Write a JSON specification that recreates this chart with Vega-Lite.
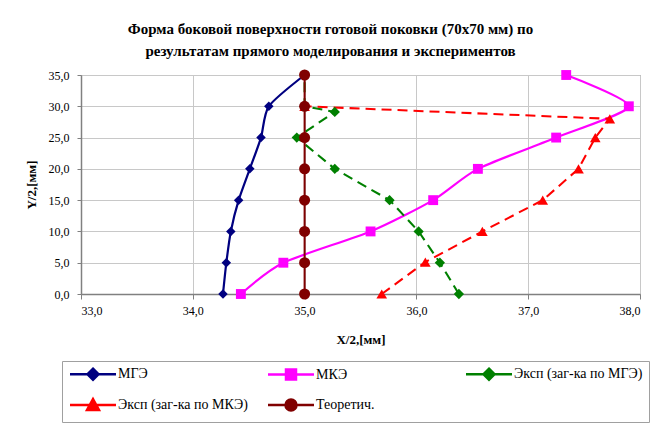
{
  "$schema": "https://vega.github.io/schema/vega-lite/v6.json",
  "width": 559,
  "height": 219,
  "autosize": {"type": "none"},
  "padding": {"left": 81, "top": 75, "right": 19, "bottom": 134},
  "background": "white",
  "config": {
    "font": "Liberation Serif",
    "view": {"stroke": "#808080", "strokeWidth": 1},
    "legend": {
      "labelFont": "Liberation Serif",
      "labelFontSize": 14,
      "labelColor": "black",
      "labelLimit": 220
    }
  },
  "title": {
    "text": ["Форма боковой поверхности готовой поковки (70x70 мм) по", "результатам прямого моделирования и экспериментов"],
    "font": "Liberation Serif",
    "fontSize": 15,
    "fontWeight": "bold",
    "color": "black",
    "anchor": "middle",
    "dx": -30,
    "offset": 10,
    "lineHeight": 22
  },
  "data": {
    "values": [
      {"series": "МГЭ", "seq": 1, "x": 34.27, "y": 0},
      {"series": "МГЭ", "seq": 2, "x": 34.30, "y": 5},
      {"series": "МГЭ", "seq": 3, "x": 34.34, "y": 10},
      {"series": "МГЭ", "seq": 4, "x": 34.41, "y": 15},
      {"series": "МГЭ", "seq": 5, "x": 34.51, "y": 20},
      {"series": "МГЭ", "seq": 6, "x": 34.61, "y": 25},
      {"series": "МГЭ", "seq": 7, "x": 34.68, "y": 30},
      {"series": "МГЭ", "seq": 8, "x": 35.0, "y": 35},
      {"series": "МКЭ", "seq": 1, "x": 34.43, "y": 0},
      {"series": "МКЭ", "seq": 2, "x": 34.81, "y": 5},
      {"series": "МКЭ", "seq": 3, "x": 35.59, "y": 10},
      {"series": "МКЭ", "seq": 4, "x": 36.15, "y": 15},
      {"series": "МКЭ", "seq": 5, "x": 36.55, "y": 20},
      {"series": "МКЭ", "seq": 6, "x": 37.25, "y": 25},
      {"series": "МКЭ", "seq": 7, "x": 37.90, "y": 30},
      {"series": "МКЭ", "seq": 8, "x": 37.34, "y": 35},
      {"series": "Эксп (заг-ка по МГЭ)", "seq": 1, "x": 36.38, "y": 0},
      {"series": "Эксп (заг-ка по МГЭ)", "seq": 2, "x": 36.21, "y": 5},
      {"series": "Эксп (заг-ка по МГЭ)", "seq": 3, "x": 36.02, "y": 10},
      {"series": "Эксп (заг-ка по МГЭ)", "seq": 4, "x": 35.76, "y": 15},
      {"series": "Эксп (заг-ка по МГЭ)", "seq": 5, "x": 35.27, "y": 20},
      {"series": "Эксп (заг-ка по МГЭ)", "seq": 6, "x": 34.93, "y": 25},
      {"series": "Эксп (заг-ка по МГЭ)", "seq": 7, "x": 35.27, "y": 29.1},
      {"series": "Эксп (заг-ка по МГЭ)", "seq": 8, "x": 35.0, "y": 30},
      {"series": "Эксп (заг-ка по МГЭ)", "seq": 9, "x": 35.0, "y": 35},
      {"series": "Эксп (заг-ка по МКЭ)", "seq": 1, "x": 35.69, "y": 0},
      {"series": "Эксп (заг-ка по МКЭ)", "seq": 2, "x": 36.08, "y": 5.1},
      {"series": "Эксп (заг-ка по МКЭ)", "seq": 3, "x": 36.59, "y": 10},
      {"series": "Эксп (заг-ка по МКЭ)", "seq": 4, "x": 37.13, "y": 15},
      {"series": "Эксп (заг-ка по МКЭ)", "seq": 5, "x": 37.45, "y": 20},
      {"series": "Эксп (заг-ка по МКЭ)", "seq": 6, "x": 37.60, "y": 25},
      {"series": "Эксп (заг-ка по МКЭ)", "seq": 7, "x": 37.73, "y": 28},
      {"series": "Эксп (заг-ка по МКЭ)", "seq": 8, "x": 35.0, "y": 30},
      {"series": "Теоретич.", "seq": 1, "x": 35.0, "y": 0},
      {"series": "Теоретич.", "seq": 2, "x": 35.0, "y": 5},
      {"series": "Теоретич.", "seq": 3, "x": 35.0, "y": 10},
      {"series": "Теоретич.", "seq": 4, "x": 35.0, "y": 15},
      {"series": "Теоретич.", "seq": 5, "x": 35.0, "y": 20},
      {"series": "Теоретич.", "seq": 6, "x": 35.0, "y": 25},
      {"series": "Теоретич.", "seq": 7, "x": 35.0, "y": 30},
      {"series": "Теоретич.", "seq": 8, "x": 35.0, "y": 35}
    ]
  },
  "encoding": {
    "x": {
      "field": "x", "type": "quantitative",
      "scale": {"domain": [33, 38], "nice": false, "zero": false},
      "axis": {
        "title": "X/2,[мм]", "values": [33, 34, 35, 36, 37, 38],
        "labelExpr": "replace(format(datum.value, '.1f'), '.', ',')",
        "labelFont": "Liberation Serif", "labelFontSize": 12, "labelColor": "black",
        "titleFont": "Liberation Serif", "titleFontSize": 13, "titleFontWeight": "bold", "titleColor": "black",
        "titlePadding": 17, "labelPadding": 6, "tickSize": 5, "tickColor": "#808080",
        "domainColor": "#808080", "domainWidth": 1.5,
        "gridColor": "#c8c8c8", "gridWidth": 1
      }
    },
    "y": {
      "field": "y", "type": "quantitative",
      "scale": {"domain": [0, 35], "nice": false},
      "axis": {
        "title": "Y/2,[мм]", "values": [0, 5, 10, 15, 20, 25, 30, 35],
        "labelExpr": "replace(format(datum.value, '.1f'), '.', ',')",
        "labelFont": "Liberation Serif", "labelFontSize": 12, "labelColor": "black",
        "titleFont": "Liberation Serif", "titleFontSize": 13, "titleFontWeight": "bold", "titleColor": "black",
        "titlePadding": 10, "labelPadding": 8, "tickSize": 4, "tickColor": "#808080",
        "domainColor": "#808080", "domainWidth": 1.5,
        "gridColor": "#c8c8c8", "gridWidth": 1
      }
    }
  },
  "layer": [
    {
      "transform": [{"filter": {"field": "series", "oneOf": ["МГЭ", "МКЭ"]}}],
      "mark": {"type": "line", "interpolate": "cardinal", "tension": 0.3},
      "encoding": {
        "order": {"field": "seq", "type": "quantitative"},
        "color": {
          "field": "series", "type": "nominal",
          "scale": {"domain": ["МГЭ", "МКЭ", "Эксп (заг-ка по МГЭ)", "Эксп (заг-ка по МКЭ)", "Теоретич."], "range": ["#000080", "#FF00FF", "#008000", "#FF0000", "#800000"]},
          "legend": null
        },
        "strokeWidth": {
          "field": "series", "type": "nominal",
          "scale": {"domain": ["МГЭ", "МКЭ", "Эксп (заг-ка по МГЭ)", "Эксп (заг-ка по МКЭ)", "Теоретич."], "range": [2.2, 2, 3, 2.5, 4]},
          "legend": null
        }
      }
    },
    {
      "transform": [{"filter": {"field": "series", "oneOf": ["Эксп (заг-ка по МГЭ)", "Эксп (заг-ка по МКЭ)", "Теоретич."]}}],
      "mark": {"type": "line", "interpolate": "linear"},
      "encoding": {
        "order": {"field": "seq", "type": "quantitative"},
        "color": {
          "field": "series", "type": "nominal",
          "scale": {"domain": ["МГЭ", "МКЭ", "Эксп (заг-ка по МГЭ)", "Эксп (заг-ка по МКЭ)", "Теоретич."], "range": ["#000080", "#FF00FF", "#008000", "#FF0000", "#800000"]},
          "legend": null
        },
        "strokeWidth": {
          "field": "series", "type": "nominal",
          "scale": {"domain": ["МГЭ", "МКЭ", "Эксп (заг-ка по МГЭ)", "Эксп (заг-ка по МКЭ)", "Теоретич."], "range": [2.2, 2, 3, 2.5, 4]},
          "legend": null
        },
        "strokeDash": {
          "field": "series", "type": "nominal",
          "scale": {"domain": ["Эксп (заг-ка по МГЭ)", "Эксп (заг-ка по МКЭ)", "Теоретич."], "range": [[10, 6], [10, 6], [1, 0]]},
          "legend": null
        }
      }
    },
    {
      "mark": {"type": "point", "filled": true, "opacity": 1},
      "encoding": {
        "color": {
          "field": "series", "type": "nominal",
          "scale": {"domain": ["МГЭ", "МКЭ", "Эксп (заг-ка по МГЭ)", "Эксп (заг-ка по МКЭ)", "Теоретич."], "range": ["#000080", "#FF00FF", "#008000", "#FF0000", "#800000"]},
          "legend": null
        },
        "shape": {
          "field": "series", "type": "nominal",
          "scale": {"domain": ["МГЭ", "МКЭ", "Эксп (заг-ка по МГЭ)", "Эксп (заг-ка по МКЭ)", "Теоретич."], "range": ["diamond", "square", "diamond", "triangle-up", "circle"]},
          "legend": null
        },
        "size": {
          "field": "series", "type": "nominal",
          "scale": {"domain": ["МГЭ", "МКЭ", "Эксп (заг-ка по МГЭ)", "Эксп (заг-ка по МКЭ)", "Теоретич."], "range": [90, 121, 196, 144, 160]},
          "legend": null
        }
      }
    },
    {
      "transform": [{"filter": "false"}],
      "mark": {"type": "point", "filled": true, "opacity": 1, "strokeWidth": 2.5},
      "encoding": {
        "fill": {
          "field": "series", "type": "nominal",
          "scale": {"domain": ["МГЭ", "МКЭ", "Эксп (заг-ка по МГЭ)", "Эксп (заг-ка по МКЭ)", "Теоретич."], "range": ["#000080", "#FF00FF", "#008000", "#FF0000", "#800000"]},
          "legend": {
            "title": null, "orient": "none", "legendX": -19, "legendY": 286,
            "direction": "horizontal", "columns": 3, "gridAlign": "all",
            "columnPadding": 15, "rowPadding": 9, "padding": 6,
            "strokeColor": "#a0a0a0", "fillColor": "white",
            "symbolSize": 100, "symbolStrokeWidth": 2.5, "symbolOffset": 18, "labelOffset": 18
          }
        },
        "stroke": {
          "field": "series", "type": "nominal",
          "scale": {"domain": ["МГЭ", "МКЭ", "Эксп (заг-ка по МГЭ)", "Эксп (заг-ка по МКЭ)", "Теоретич."], "range": ["#000080", "#FF00FF", "#008000", "#FF0000", "#800000"]},
          "legend": {
            "title": null, "orient": "none", "legendX": -19, "legendY": 286,
            "direction": "horizontal", "columns": 3, "gridAlign": "all",
            "columnPadding": 15, "rowPadding": 9, "padding": 6,
            "strokeColor": "#a0a0a0", "fillColor": "white",
            "symbolSize": 100, "symbolStrokeWidth": 2.5, "symbolOffset": 18, "labelOffset": 18
          }
        },
        "shape": {
          "field": "series", "type": "nominal",
          "scale": {
            "domain": ["МГЭ", "МКЭ", "Эксп (заг-ка по МГЭ)", "Эксп (заг-ка по МКЭ)", "Теоретич."],
            "range": [
              "M-4.6,0L4.6,0M0,-1.1L1.1,0L0,1.1L-1.1,0Z",
              "M-4.6,0L4.6,0M-1,-1L1,-1L1,1L-1,1Z",
              "M-4.6,0L4.6,0M0,-1.1L1.1,0L0,1.1L-1.1,0Z",
              "M-4.6,0L4.6,0M0,-1.2L1.2,1L-1.2,1Z",
              "M-4.6,0L4.6,0M-1.1,0A1.1,1.1 0 1,0 1.1,0A1.1,1.1 0 1,0 -1.1,0Z"
            ]
          },
          "legend": {
            "title": null, "orient": "none", "legendX": -19, "legendY": 286,
            "direction": "horizontal", "columns": 3, "gridAlign": "all",
            "columnPadding": 15, "rowPadding": 9, "padding": 6,
            "strokeColor": "#a0a0a0", "fillColor": "white",
            "symbolSize": 100, "symbolStrokeWidth": 2.5, "symbolOffset": 18, "labelOffset": 18
          }
        }
      }
    }
  ],
  "resolve": {"scale": {"shape": "independent", "fill": "independent", "stroke": "independent"}}
}
